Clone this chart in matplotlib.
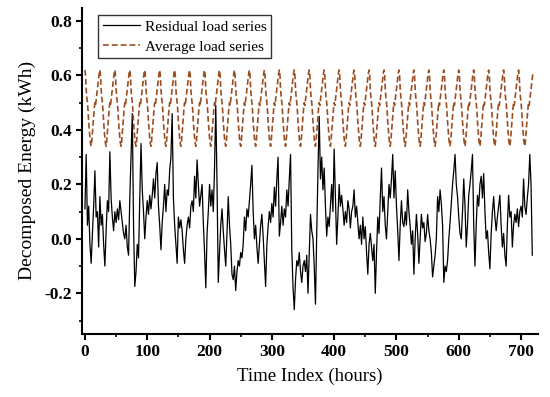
import numpy as np
import matplotlib
matplotlib.use("Agg")
import matplotlib.pyplot as plt
from matplotlib.ticker import MultipleLocator

# Average hourly profile (one day, kWh) - the average series repeats it for 30 days
daily_profile = [0.62, 0.60, 0.55, 0.52, 0.50, 0.47, 0.43, 0.40, 0.37, 0.35, 0.34, 0.36,
                 0.39, 0.42, 0.45, 0.48, 0.50, 0.49, 0.51, 0.53, 0.55, 0.57, 0.59, 0.61]
n_days = 30

# Residual series, sampled every 2 hours (hours 0..718)
residual = [
    0.11, 0.31, 0.05, 0.12, -0.02, -0.09, 0.02, 0.12, 0.25, 0.08, 0.10, -0.03, 0.155, 0.05, 0.09,
    -0.02, -0.10, 0.03, 0.14, 0.10, 0.32, 0.15, 0.08, 0.03, 0.10, 0.06, 0.11, 0.07, 0.14, 0.10,
    0.06, 0.02, 0.00, 0.05, -0.03, -0.06, 0.15, 0.30, 0.46, 0.05, -0.175, -0.12, -0.02, -0.07, 0.15,
    0.35, 0.18, 0.10, 0.00, 0.08, 0.14, 0.09, 0.16, 0.11, 0.16, 0.22, 0.15, 0.24, 0.28, 0.12,
    0.05, -0.04, 0.06, 0.12, 0.20, 0.10, 0.18, 0.16, 0.25, 0.30, 0.46, 0.15, 0.05, -0.02, -0.09,
    0.08, 0.04, 0.07, 0.03, -0.04, -0.09, 0.00, 0.05, 0.08, 0.04, 0.12, 0.14, 0.10, 0.23, 0.15,
    0.29, 0.20, 0.12, 0.16, 0.20, 0.06, -0.05, -0.18, 0.02, 0.10, 0.20, 0.12, 0.18, 0.10, 0.26,
    0.49, 0.20, -0.16, -0.05, 0.05, 0.11, 0.03, -0.04, -0.10, 0.02, 0.155, 0.05, -0.02, -0.13, -0.15,
    -0.10, -0.19, -0.12, -0.08, -0.10, -0.05, -0.07, -0.02, 0.08, 0.03, 0.11, 0.08, 0.14, 0.20, 0.27,
    0.10, 0.00, 0.05, -0.03, -0.09, -0.02, 0.05, 0.09, 0.01, -0.08, -0.175, -0.02, 0.045, 0.10, 0.06,
    0.13, 0.08, 0.19, 0.12, 0.22, 0.30, 0.01, 0.06, 0.12, 0.05, 0.11, 0.08, 0.18, 0.12, 0.22,
    0.31, -0.04, -0.18, -0.26, -0.15, -0.08, -0.10, -0.05, -0.12, -0.16, -0.10, -0.08, -0.12, -0.06, -0.20,
    -0.05, 0.09, 0.03, 0.00, -0.10, -0.24, 0.02, 0.25, 0.45, 0.22, 0.30, 0.18, 0.26, 0.12, 0.01,
    0.08, 0.045, 0.12, 0.20, 0.10, 0.33, 0.15, -0.02, 0.08, 0.20, 0.12, 0.16, 0.11, 0.05, 0.10,
    0.06, 0.14, 0.11, 0.04, 0.10, 0.12, 0.18, 0.08, 0.12, 0.06, 0.00, 0.05, -0.02, 0.08, 0.00,
    0.045, -0.05, -0.13, -0.02, 0.02, -0.03, -0.08, -0.02, -0.20, -0.05, 0.08, 0.02, 0.15, 0.26, 0.10,
    0.155, 0.05, 0.00, 0.10, 0.20, 0.15, 0.22, 0.31, 0.15, 0.25, 0.12, 0.03, -0.08, 0.05, 0.14,
    0.06, 0.045, 0.10, 0.05, 0.18, 0.10, 0.045, -0.02, 0.03, -0.13, 0.00, 0.09, 0.02, -0.09, 0.00,
    0.09, 0.04, 0.06, -0.01, 0.02, 0.09, 0.03, 0.00, -0.05, -0.14, -0.10, -0.06, 0.00, 0.155, 0.10,
    0.18, 0.13, 0.05, -0.16, -0.10, -0.12, -0.08, 0.00, 0.06, 0.13, 0.20, 0.25, 0.31, 0.20, 0.155,
    0.08, 0.02, 0.00, 0.10, 0.22, 0.12, -0.03, 0.05, 0.16, 0.20, 0.25, 0.31, 0.05, -0.10, 0.05,
    0.16, 0.12, 0.20, 0.23, 0.15, 0.24, 0.10, 0.00, 0.03, -0.05, -0.11, 0.02, 0.10, 0.155, 0.08,
    0.03, 0.08, 0.12, 0.16, 0.05, -0.03, 0.02, -0.06, -0.10, 0.05, 0.16, 0.08, 0.10, -0.03, 0.05,
    0.09, 0.06, 0.11, 0.045, 0.10, 0.12, 0.08, 0.22, 0.12, 0.09, 0.15, 0.20, 0.31, 0.20, -0.06,
]
residual_step = 2

x_ticks = [0, 100, 200, 300, 400, 500, 600, 700]
y_ticks = [-0.2, 0.0, 0.2, 0.4, 0.6, 0.8]

average = np.tile(daily_profile, n_days)
hours_avg = np.arange(len(average))
hours_res = np.arange(len(residual)) * residual_step

plt.rcParams['font.family'] = ['Liberation Serif', 'DejaVu Serif']

fig = plt.figure(figsize=(5.5, 3.97), dpi=100)
ax = fig.add_axes([0.149, 0.159, 0.829, 0.821])

ax.plot(hours_res, residual, color='black', lw=0.9, label='Residual load series')
ax.plot(hours_avg, average, color='#9a4f22', lw=1.2, ls=(0, (3.5, 1.8)), label='Average load series')

ax.set_xlim(-4.8, 727)
ax.set_ylim(-0.349, 0.848)
ax.set_xticks(x_ticks)
ax.set_yticks(y_ticks)
ax.set_yticklabels([f'{v:.1f}' for v in y_ticks])
ax.xaxis.set_minor_locator(MultipleLocator(50))
ax.yaxis.set_minor_locator(MultipleLocator(0.1))

for s in ['top', 'right']:
    ax.spines[s].set_visible(False)
for s in ['left', 'bottom']:
    ax.spines[s].set_linewidth(1.5)

ax.tick_params(which='major', direction='out', length=4, width=1.5, labelsize=12.5, pad=3)
ax.tick_params(which='minor', direction='out', length=2.5, width=1.2)
for lab in ax.get_xticklabels() + ax.get_yticklabels():
    lab.set_fontweight('bold')

ax.set_xlabel('Time Index (hours)', fontsize=13.5, labelpad=6)
ax.set_ylabel('Decomposed Energy (kWh)', fontsize=14, labelpad=6)

leg = ax.legend(loc='upper left', bbox_to_anchor=(0.036, 0.977), frameon=True, fancybox=False,
                edgecolor='black', fontsize=11, handlelength=2.4, borderpad=0.3,
                labelspacing=0.42, handletextpad=0.35, borderaxespad=0.0)
leg.get_frame().set_linewidth(1.0)

fig.savefig('out.png', dpi=100)
